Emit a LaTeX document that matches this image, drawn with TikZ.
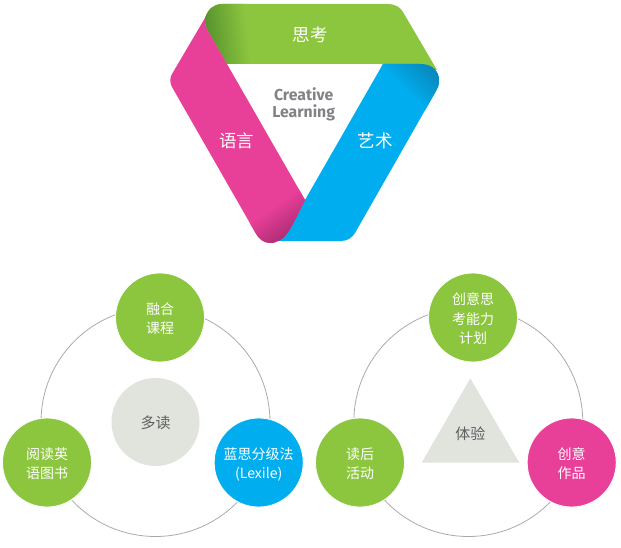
\documentclass[tikz,border=0pt]{standalone}
\usepackage{fontspec}
\setmainfont{Noto Sans CJK SC}
\newfontfamily\latinbold{Fira Sans}
\definecolor{mygreen}{HTML}{8CC63F}
\definecolor{mypink}{HTML}{E83F98}
\definecolor{myblue}{HTML}{00AEEF}
\definecolor{mypale}{HTML}{E1E3DD}
\definecolor{myring}{HTML}{A9AAAA}
\definecolor{mytext}{HTML}{5F6062}
\definecolor{mytitle}{HTML}{808285}
\definecolor{greendark}{HTML}{4E8A2A}
\definecolor{bluedark}{HTML}{0B7FB0}
\definecolor{pinkdark}{HTML}{A32A6E}
\newcommand{\lowered}[1]{\raisebox{-2.6pt}[\height][\depth]{\begin{tabular}{@{}c@{}}#1\end{tabular}}}
\tikzset{
  ring/.style={circle,draw=myring,line width=0.8pt,minimum size=229pt,inner sep=0pt},
  disc/.style={circle,draw=white,line width=0.8pt,minimum size=89pt,inner sep=0pt,text=white,font=\fontsize{14}{19.7}\selectfont},
  hub/.style={circle,fill=mypale,minimum size=88pt,inner sep=0pt,text=mytext,font=\fontsize{15}{18}\selectfont},
  bandlabel/.style={inner sep=0pt,text=white,font=\fontsize{17.5}{20}\selectfont},
  titlelabel/.style={inner sep=0pt,text=mytitle,font=\latinbold\bfseries\fontsize{15.8}{18}\selectfont}
}
\begin{document}
\begin{tikzpicture}[x=1pt,y=-1pt]
\useasboundingbox (0,0) rectangle (621,548);
% band 1: green
\def\greenband{(205,18) .. controls (208,9) and (214,4) .. (222,4) -- (388,4) .. controls (395,4) and (400,7) .. (403,12) -- (437,70) -- (383,64) -- (227,64) -- (209,33) .. controls (206,28) and (204,23) .. (205,18) -- cycle}
\fill[mygreen] \greenband;
\begin{scope}
  \clip \greenband;
  \begin{scope}[transform canvas={shift={(205pt,-34pt)},rotate=6}]
    \shade[left color=greendark,right color=mygreen] (-6pt,-60pt) rectangle (42pt,60pt);
  \end{scope}
\end{scope}
% band 2: blue
\def\blueband{(383,64) -- (420,64) .. controls (433,64) and (439,72) .. (439,80) .. controls (439,85) and (438,88) .. (436,91) -- (355,233) .. controls (352,238) and (347,241) .. (341,241) -- (278,241) -- (305,200) -- cycle}
\fill[myblue] \blueband;
\begin{scope}
  \clip \blueband;
  \begin{scope}[transform canvas={shift={(439pt,-66pt)},rotate=225}]
    \shade[left color=bluedark,right color=myblue] (-2pt,-80pt) rectangle (42pt,80pt);
  \end{scope}
\end{scope}
% band 3: pink
\def\pinkband{(205,18) -- (172,74) .. controls (170,77) and (169.5,83) .. (172,87) -- (255,232) .. controls (258,238) and (263,243) .. (270,243) .. controls (274,243) and (276,242) .. (278,241) .. controls (287,238) and (292,226) .. (305,200) -- (227,64) -- (209,33) .. controls (206,28) and (204,23) .. (205,18) -- cycle}
\fill[mypink] \pinkband;
\begin{scope}
  \clip \pinkband;
  \begin{scope}[transform canvas={shift={(283pt,-246pt)},rotate=125}]
    \shade[left color=pinkdark,right color=mypink] (0pt,-70pt) rectangle (38pt,70pt);
  \end{scope}
\end{scope}
\node[bandlabel] (think) at (310,35) {思考};
\node[bandlabel] (lang) at (236.7,140.5) {语言};
\node[bandlabel] (art) at (375,141) {艺术};
\node[titlelabel] (creative) at (303.7,94.5) {Creative};
\node[titlelabel] (learning) at (303.7,112.5) {Learning};
% left group
\node[ring] (ringL) at (155.5,422) {};
\node[hub] (hubL) at (155.5,422) {\lowered{多读}};
\node[disc,fill=mygreen] (topL) at (160,317.5) {\lowered{融合\\课程}};
\node[disc,fill=mygreen] (leftL) at (47,462.5) {\lowered{阅读英\\语图书}};
\node[disc,fill=myblue] (rightL) at (258.7,462.5) {\lowered{蓝思分级法\\(Lexile)}};
% right group
\node[ring] (ringR) at (468.3,422) {};
\fill[mypale] (470.3,378.3) -- (519.3,462.7) -- (421.7,462.7) -- cycle;
\node[inner sep=0pt,text=mytext,font=\fontsize{15}{18}\selectfont] (exp) at (470.3,434) {体验};
\node[disc,fill=mygreen] (topR) at (473,317.5) {\lowered{创意思\\考能力\\计划}};
\node[disc,fill=mygreen] (leftR) at (360,462.5) {\lowered{读后\\活动}};
\node[disc,fill=mypink] (rightR) at (571.7,462.5) {\lowered{创意\\作品}};
\end{tikzpicture}
\end{document}
